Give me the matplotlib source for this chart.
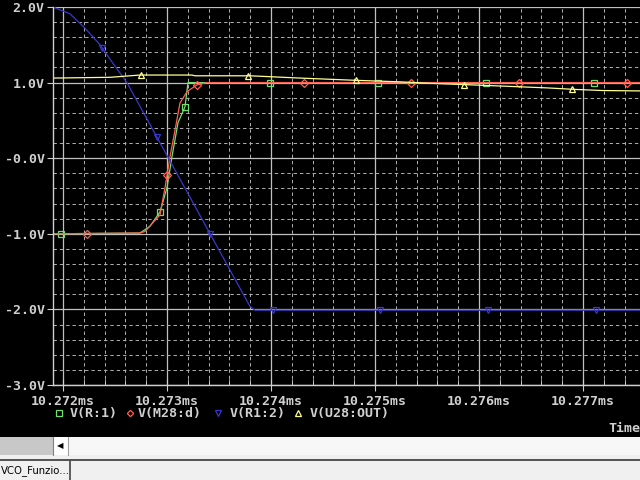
import numpy as np
import matplotlib
matplotlib.use("Agg")
import matplotlib.pyplot as plt
from matplotlib.lines import Line2D
from matplotlib.patches import Rectangle
from matplotlib.ticker import MultipleLocator, FuncFormatter

# ================= DATA (time in ms, voltage in V) =================
green_t = [10.271904, 10.272740, 10.272837, 10.272933, 10.273000, 10.273048,
           10.273106, 10.273173, 10.273202, 10.277548]
green_v = [-1.00, -0.99, -0.90, -0.71, -0.39, 0.02, 0.47, 0.68, 1.00, 1.00]
green_mk = [10.271981, 10.272933, 10.273173, 10.273990, 10.275029, 10.276067, 10.277106]

red_t = [10.271904, 10.272740, 10.272788, 10.272933, 10.272981, 10.273029,
         10.273077, 10.273125, 10.273192, 10.273288, 10.273385, 10.277548]
red_v = [-1.00, -0.99, -0.97, -0.75, -0.39, 0.02, 0.37, 0.73, 0.88, 0.97, 1.00, 1.00]
red_mk = [10.272231, 10.273000, 10.273288, 10.274317, 10.275346, 10.276385, 10.277423]

blue_t = [10.271904, 10.272067, 10.272212, 10.272356, 10.272452, 10.272615,
          10.273798, 10.273846, 10.277548]
blue_v = [2.00, 1.91, 1.72, 1.50, 1.31, 1.00, -1.96, -2.01, -2.01]
blue_mk = [10.272375, 10.272904, 10.273413, 10.274019, 10.275048, 10.276087, 10.277125]

yellow_t = [10.271904, 10.272452, 10.272740, 10.273240, 10.273269, 10.273798,
            10.274279, 10.274817, 10.275240, 10.275529, 10.275740, 10.276202,
            10.276654, 10.276923, 10.277192, 10.277548]
yellow_v = [1.06, 1.07, 1.10, 1.10, 1.09, 1.09, 1.06, 1.03, 1.01, 0.99, 0.98,
            0.955, 0.93, 0.91, 0.895, 0.89]
yellow_mk = [10.272750, 10.273779, 10.274817, 10.275856, 10.276894]

series_names = ["V(R:1)", "V(M28:d)", "V(R1:2)", "V(U28:OUT)"]
# ==================================================================

COL = {"green": "#70e070", "red": "#ff6050", "blue": "#3a36c8", "yellow": "#ffff90"}
FG = "#d0d0d0"
MONO = {"family": "DejaVu Sans Mono", "weight": "bold", "size": 9.5}

fig = plt.figure(figsize=(6.4, 4.8), dpi=100, facecolor="black")
ax = fig.add_axes([53 / 640, 1 - 385 / 480, 1 - 53 / 640, 378 / 480])
ax.set_facecolor("black")

ax.set_xlim(10.271904, 10.277548)
ax.set_ylim(-3.0, 2.0)

ax.xaxis.set_major_locator(MultipleLocator(0.001))
ax.xaxis.set_minor_locator(MultipleLocator(0.0002))
ax.yaxis.set_major_locator(MultipleLocator(1.0))
ax.yaxis.set_minor_locator(MultipleLocator(0.2))
ax.xaxis.set_major_formatter(FuncFormatter(lambda v, p: f"{v:.3f}ms"))
ax.yaxis.set_major_formatter(FuncFormatter(lambda v, p: ("-0.0V" if abs(v) < 1e-9 else f"{v:.1f}V")))

ax.grid(which="major", color="#c0c0c0", lw=0.9, ls="-")
ax.grid(which="minor", color="#b0b0b0", lw=0.7, ls=(0, (3.5, 3)))
ax.set_axisbelow(True)

for s in ["top", "right"]:
    ax.spines[s].set_visible(False)
for s in ["left", "bottom"]:
    ax.spines[s].set_color(FG)
    ax.spines[s].set_linewidth(1.0)

ax.tick_params(axis="x", which="major", direction="inout", length=8, color=FG, pad=3)
ax.tick_params(axis="x", which="minor", direction="in", length=4, color=FG)
ax.tick_params(axis="y", which="major", direction="out", length=4, color=FG, pad=2)
ax.tick_params(axis="y", which="minor", length=0)
for lab in ax.get_xticklabels() + ax.get_yticklabels():
    lab.set_fontproperties(MONO)
    lab.set_color(FG)

def draw(t, v, mk, color, marker):
    ax.plot(t, v, color=color, lw=0.9)
    ax.plot(mk, np.interp(mk, t, v), ls="none", marker=marker, ms=4.5,
            mfc="none", mec=color, mew=0.9, clip_on=False)

draw(green_t, green_v, green_mk, COL["green"], "s")
draw(red_t, red_v, red_mk, COL["red"], "D")
draw(blue_t, blue_v, blue_mk, COL["blue"], "v")
draw(yellow_t, yellow_v, yellow_mk, COL["yellow"], "^")

# legend row
leg_y = 1 - 413 / 480
leg = [(59, 70, "green", "s"), (130, 138, "red", "D"), (218, 230, "blue", "v"), (298, 310, "yellow", "^")]
for (mx, tx, c, m), name in zip(leg, series_names):
    fig.add_artist(Line2D([mx / 640], [leg_y], marker=m, ms=4 if m != "D" else 3.2,
                          mfc="none", mec=COL[c], mew=0.9, ls="none"))
    fig.text(tx / 640, leg_y, name, color=FG, va="center", ha="left", fontdict=MONO)

fig.text(1.0, 1 - 429 / 480, "Time", color=FG, va="center", ha="right", fontdict=MONO)

# window chrome below the plot
chrome = [
    (0, 437, 640, 43, "#f0f0f0"),
    (0, 437, 53, 18, "#c8c8c8"),
    (53, 437, 587, 18, "#f7f7f7"),
    (53, 437, 15, 18, "#ffffff"),
    (0, 459, 640, 2, "#555555"),
    (70, 461, 570, 19, "#f0f0f0"),
]
for x, y, w, h, c in chrome:
    fig.add_artist(Rectangle((x / 640, 1 - (y + h) / 480), w / 640, h / 480,
                             transform=fig.transFigure, facecolor=c, edgecolor="none"))
fig.add_artist(Line2D([70 / 640, 70 / 640], [1 - 461 / 480, 0], color="#444444", lw=1.2))
fig.add_artist(Line2D([53 / 640, 53 / 640], [1 - 455 / 480, 1 - 437 / 480], color="#808080", lw=0.8))
fig.add_artist(Line2D([68 / 640, 68 / 640], [1 - 455 / 480, 1 - 437 / 480], color="#a0a0a0", lw=0.8))
fig.text(60 / 640, 1 - 446 / 480, "\u25c0", color="black", fontsize=6, ha="center", va="center")
fig.text(1 / 640, 1 - 471 / 480, "VCO_Funzio...", color="black", fontsize=7.3,
         family="DejaVu Sans", ha="left", va="center")

fig.savefig("out.png", dpi=100, facecolor="black")
